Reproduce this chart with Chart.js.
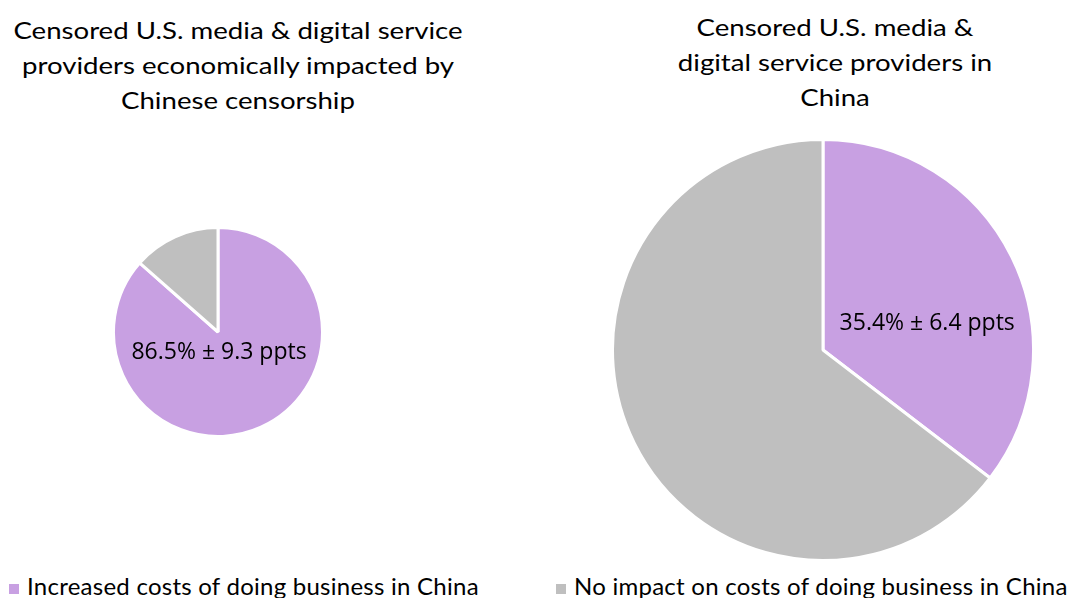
<!DOCTYPE html>
<html>
<head>
<meta charset="utf-8">
<script src="https://cdn.jsdelivr.net/npm/chart.js@4"></script>
<style>
  html, body { margin: 0; padding: 0; background: #fff; }
  body { width: 1070px; height: 598px; position: relative; overflow: hidden; font-family: Lato, "Open Sans", sans-serif; color: #000; }
  .titel { position: absolute; text-align: center; font-size: 24px; line-height: 35px; white-space: nowrap; transform: scaleX(1.15); }
  .pie { position: absolute; }
  .legend { position: absolute; top: 571px; font-size: 24px; letter-spacing: 0.25px; white-space: nowrap; }
  .legend span.box { display: inline-block; width: 10px; height: 10px; margin-right: 8px; vertical-align: 1px; }
</style>
</head>
<body>
<div class="titel" style="left:38px; top:12px; width:400px;">Censored U.S. media &amp; digital service<br>providers economically impacted by<br>Chinese censorship</div>
<div class="titel" style="left:635px; top:9px; width:400px;">Censored U.S. media &amp;<br>digital service providers in<br>China</div>

<div class="pie" style="left:112px; top:226px; width:212px; height:212px;"><canvas id="vansterPie"></canvas></div>
<div class="pie" style="left:611px; top:138px; width:424px; height:424px;"><canvas id="hogerPie"></canvas></div>

<div class="legend" id="legend1" style="left:9px;"></div>
<div class="legend" id="legend2" style="left:556px;"></div>

<script>
// kategorier och värden (procent)
const kategorier = ["Increased costs of doing business in China", "No impact on costs of doing business in China"];
const vansterVarden = [86.5, 13.5];
const hogerVarden = [35.4, 64.6];
const vansterEtikett = "86.5% ± 9.3 ppts";
const hogerEtikett = "35.4% ± 6.4 ppts";

const farger = ["#C8A0E2", "#BFBFBF"];

// ritar etiketten på den lila skivan, position i andel av radien
const etikettPlugin = {
  id: 'etikett',
  afterDatasetsDraw(chart, args, opts) {
    const arc = chart.getDatasetMeta(0).data[0];
    if (!arc) return;
    const ctx = chart.ctx;
    ctx.save();
    ctx.font = '23px "Open Sans", sans-serif';
    ctx.fillStyle = '#000';
    ctx.textAlign = 'center';
    ctx.textBaseline = 'middle';
    ctx.fillText(opts.text, arc.x + opts.fx * arc.outerRadius, arc.y + opts.fy * arc.outerRadius);
    ctx.restore();
  }
};

function skapaPie(id, varden, text, fx, fy) {
  return new Chart(document.getElementById(id), {
    type: 'pie',
    data: {
      labels: kategorier,
      datasets: [{
        data: varden,
        backgroundColor: farger,
        borderColor: '#fff',
        borderWidth: 3
      }]
    },
    options: {
      responsive: true,
      maintainAspectRatio: false,
      animation: false,
      layout: { padding: 0 },
      plugins: {
        legend: { display: false },
        tooltip: { enabled: false },
        etikett: { text: text, fx: fx, fy: fy }
      }
    },
    plugins: [etikettPlugin]
  });
}

skapaPie('vansterPie', vansterVarden, vansterEtikett, 0.01, 0.195);
skapaPie('hogerPie', hogerVarden, hogerEtikett, 0.495, -0.125);

// enkel html-legend
['legend1', 'legend2'].forEach((id, i) => {
  document.getElementById(id).innerHTML = `<span class="box" style="background:${farger[i]}"></span>${kategorier[i]}`;
});
</script>
</body>
</html>
